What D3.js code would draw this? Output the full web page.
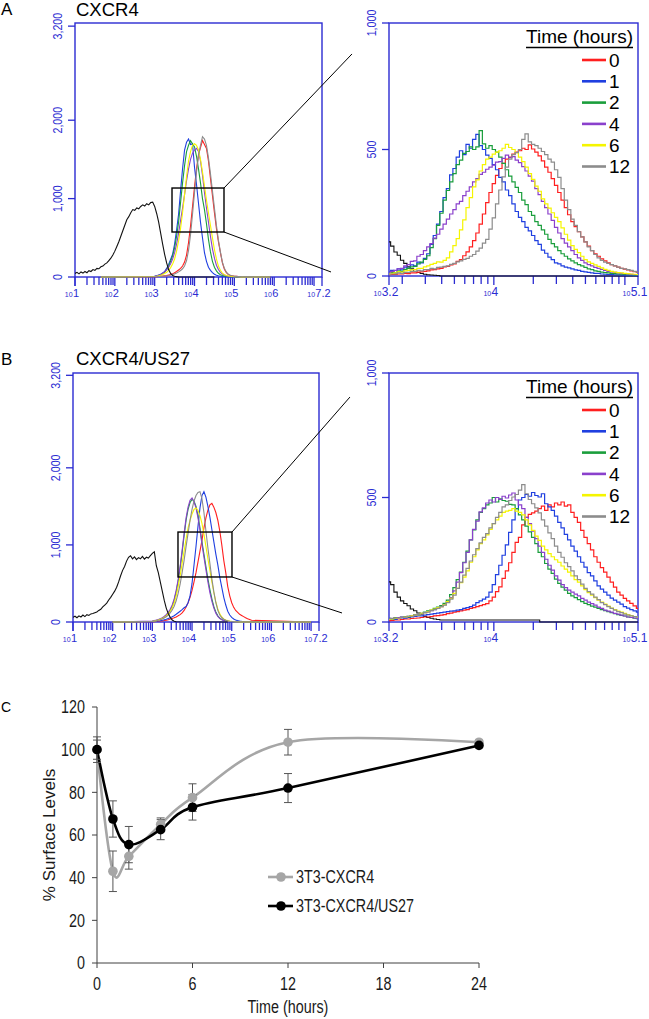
<!DOCTYPE html>
<html><head><meta charset="utf-8">
<script src="https://cdn.jsdelivr.net/npm/d3@7"></script>
<style>body{margin:0;background:#fff}svg{display:block}text{font-family:"Liberation Sans",Arial,sans-serif}</style>
</head><body>
<svg id="c" width="649" height="1019"></svg>
<script>
// ---------------- DATA ----------------
const timeLabels = ["0","1","2","4","6","12"];
const timeColors = ["#ff1f1f","#1f3fe0","#1a9e3c","#8a40cc","#f5f500","#8c8c8c"];

// zoomed histograms: log10 start 3.2, step 0.025
const zoomStart = 3.2, zoomStep = 0.025;
const zA_t0 = [5,6,6,8,8,10,9,12,12,15,16,18,20,24,25,28,30,36,38,44,48,58,65,80,95,115,140,170,205,245,290,330,365,398,425,445,462,470,482,490,495,505,500,518,502,490,475,455,430,410,385,358,330,300,270,242,215,195,175,155,135,118,100,88,78,68,60,52,45,40,35,30,27,24,20,17,14];
const zA_t1 = [15,22,12,28,24,35,30,44,40,55,52,70,88,125,160,205,255,310,345,400,425,470,495,480,520,505,540,560,515,500,478,465,440,420,390,372,340,318,285,255,232,215,192,178,160,140,125,102,90,75,65,52,48,40,35,32,28,24,22,18,16,14,12,10,10,8,7,6,6,5,5,4,4,3,3,2,2];
const zA_t2 = [10,14,12,20,18,26,30,36,38,48,55,66,80,112,148,200,248,300,338,372,405,440,458,485,492,510,500,510,575,522,505,515,500,490,470,445,420,395,372,350,330,300,282,255,240,215,200,182,165,145,128,115,100,88,78,68,60,52,45,40,34,28,25,20,18,15,13,12,10,9,8,7,6,5,5,4,4];
const zA_t4 = [12,18,22,28,30,40,45,58,60,78,85,100,115,128,150,165,185,205,225,245,262,285,295,318,335,352,372,385,402,410,422,430,438,450,452,465,478,468,472,458,448,432,415,395,375,345,322,295,270,245,220,192,170,148,130,115,100,85,72,62,52,45,40,34,30,26,22,18,16,14,12,10,9,8,7,6,5];
const zA_t6 = [8,10,12,16,15,20,22,24,25,30,30,36,40,46,50,56,55,62,72,95,120,148,182,222,270,310,352,380,415,440,462,470,482,490,495,505,520,508,500,488,470,452,430,405,382,355,335,305,285,268,250,232,215,190,165,142,120,105,92,78,65,56,50,44,38,32,26,22,18,15,13,12,10,9,8,7,6];
const zA_t12 = [5,8,8,12,10,14,14,18,18,22,20,25,25,30,28,34,35,38,40,46,50,56,60,66,70,78,85,98,110,130,145,185,230,285,340,392,430,462,480,488,500,540,562,530,520,515,505,492,480,462,450,420,390,345,300,262,225,200,175,155,135,115,100,85,72,62,55,50,45,40,35,30,28,25,22,18,15];
const zA_ctl = [135,118,95,82,62,50,36,28,18,14,10,7,5,4,3,2,0];

const zB_t0 = [5,6,8,8,10,12,12,14,15,16,18,20,20,22,25,26,28,30,34,36,40,42,45,48,50,55,58,62,66,70,74,85,100,122,141,175,205,238,280,320,340,390,420,432,438,445,455,465,448,470,462,478,470,482,465,470,440,420,400,368,340,315,290,262,240,218,200,180,160,140,120,108,95,85,75,65,55];
const zB_t1 = [10,12,10,14,16,15,18,20,22,24,25,28,30,32,34,36,38,40,42,44,45,48,50,55,58,62,68,78,85,92,100,120,150,190,228,268,310,360,410,455,490,500,512,505,520,508,502,515,475,462,448,425,400,378,352,330,305,285,262,240,220,198,185,165,145,132,120,108,96,88,80,72,62,56,50,45,40];
const zB_t2 = [15,12,18,16,20,22,20,26,30,28,35,40,45,48,55,60,66,75,88,110,138,170,200,240,285,330,370,410,440,455,470,478,500,482,495,488,485,472,470,455,430,410,385,362,340,315,280,262,235,212,195,172,155,140,128,115,105,98,90,82,75,70,64,60,55,50,46,42,38,34,30,27,24,20,18,15,13];
const zB_t4 = [12,15,14,18,20,18,22,25,28,30,34,38,42,46,50,56,62,70,80,98,125,160,198,238,280,330,372,405,442,458,478,490,482,500,492,505,498,510,518,490,470,455,420,395,365,335,305,280,252,228,208,185,168,150,138,128,120,112,105,95,88,80,74,68,60,55,48,44,40,35,32,28,24,20,18,16,14];
const zB_t6 = [10,12,15,14,18,20,22,25,28,30,35,38,42,48,52,58,62,70,82,95,115,135,158,180,205,240,262,290,315,330,350,372,395,410,425,440,445,448,455,445,440,430,410,390,368,345,328,305,290,275,262,250,240,225,212,200,185,170,160,145,130,118,108,98,88,80,72,64,56,50,44,40,35,30,26,22,20];
const zB_t12 = [12,14,16,15,18,20,24,22,28,30,32,38,40,46,50,55,62,68,78,92,108,135,160,188,215,245,270,295,318,340,355,378,395,420,440,462,470,488,502,512,530,552,515,492,475,458,438,410,385,358,335,305,280,260,238,222,205,185,170,152,135,122,112,100,90,78,70,62,55,48,42,38,32,28,25,22,20];
const zB_ctl = [161,150,120,100,85,74,65,52,45,36,30,22,18,15,12,10,8];

// full-range histograms: log10 start 3.0, step 0.05
const fullStart = 3.0, fullStep = 0.05;
const fA_t0 = [3,5,7,9,12,15,18,24,30,40,55,70,90,110,140,190,280,440,650,900,1150,1380,1560,1650,1740,1690,1640,1480,1260,1040,820,620,450,310,180,100,55,30,20,14,10,8,6,5,4,3,2,2,1,1,0];
const fA_t1 = [10,15,25,35,50,70,110,160,225,290,420,600,800,1100,1380,1620,1720,1760,1690,1700,1400,1180,940,700,500,310,200,125,85,55,35,22,15,10,8,6,5,4,3,2,2,1,1,1,0,0,0,0,0,0,0];
const fA_t2 = [8,12,20,30,45,62,95,140,200,270,370,520,700,950,1200,1420,1600,1680,1740,1700,1660,1540,1380,1200,1000,860,680,480,320,200,125,78,48,30,20,14,10,7,5,4,3,2,2,1,1,0,0,0,0,0,0];
const fA_t4 = [10,15,22,32,48,65,90,125,170,230,310,420,560,720,880,1050,1230,1380,1500,1580,1620,1640,1600,1480,1300,1080,880,700,520,360,240,150,95,60,38,25,16,10,7,5,4,3,2,1,1,0,0,0,0,0,0];
const fA_t6 = [6,10,15,22,32,45,60,85,120,165,230,330,460,620,820,1050,1280,1480,1600,1680,1700,1680,1620,1500,1340,1160,980,820,660,500,350,230,140,85,50,30,20,14,10,7,5,4,3,2,1,0,0,0,0,0,0];
const fA_t12 = [3,4,6,8,10,13,16,20,25,32,40,50,65,82,105,140,210,340,540,800,1080,1340,1540,1680,1790,1760,1680,1520,1320,1100,880,660,470,320,190,110,62,35,22,15,10,8,6,5,4,3,2,2,1,1,0];

const fB_t0 = [3,5,7,9,12,15,19,24,30,38,46,55,66,80,95,118,150,195,250,320,410,520,640,780,920,1060,1220,1350,1450,1520,1540,1490,1420,1320,1180,1000,800,640,460,340,250,190,150,125,100,85,70,55,42,32,22];
const fB_t1 = [5,7,10,13,17,22,28,35,45,55,68,82,100,120,140,160,185,200,250,340,500,740,980,1240,1480,1640,1690,1620,1500,1360,1200,1040,880,740,580,450,320,220,140,90,60,40,26,18,12,8,5,3,2,1,0];
const fB_t2 = [10,15,20,28,38,50,65,85,110,150,200,280,390,530,700,900,1120,1320,1460,1550,1590,1570,1500,1380,1220,1040,880,720,560,420,300,200,130,80,50,32,22,15,10,7,5,4,3,2,1,0,0,0,0,0,0];
const fB_t4 = [12,18,24,32,42,55,72,95,125,165,220,300,410,550,720,930,1150,1350,1490,1580,1610,1560,1480,1350,1190,1010,840,680,520,380,270,180,115,72,45,28,18,12,8,6,4,3,2,2,1,0,0,0,0,0,0];
const fB_t6 = [8,12,18,25,34,45,60,80,105,140,185,250,340,460,600,760,920,1080,1220,1320,1400,1460,1480,1450,1380,1280,1140,980,820,670,520,380,260,170,105,65,40,26,18,12,8,6,4,3,2,1,0,0,0,0,0];
const fB_t12 = [8,12,16,22,30,40,52,68,90,118,155,205,275,370,490,640,800,980,1150,1320,1460,1570,1640,1680,1690,1600,1420,1180,960,760,560,390,250,150,90,55,35,22,15,10,7,5,4,3,2,1,0,0,0,0,0];

// control (unstained) histogram on full range: log10 start 1.0, step 0.05
const ctlStart = 1.0, ctlStep = 0.05;
const fA_ctl = [45,60,40,65,50,70,55,80,70,95,85,110,105,130,140,165,180,210,240,280,330,390,450,520,590,660,730,770,820,860,850,880,870,900,920,905,935,920,950,955,900,810,700,560,420,290,180,95,45,20,10,5,2];
const fB_ctl = [60,75,55,80,65,90,70,95,85,105,110,120,130,150,165,195,220,245,285,320,360,400,450,520,600,670,720,790,840,860,820,845,810,835,820,850,815,840,830,860,890,910,730,640,520,400,280,180,110,60,25,10,3];

// axes
const fullDomainLog = [1, 7.2];
const zoomDomainLog = [3.2, 5.1];
const fullYTicks = [0, 1000, 2000, 3200];
const zoomYTicks = [0, 500, 1000];
const fullXLabelExps = [1, 2, 3, 4, 5, 6, 7.2];
const zoomXLabelExps = [3.2, 4, 5.1];
const baseA = [1.65, 5.9], baseB = [2.0, 7.0];     // extent of zero baseline of coloured histograms
const ctlBaseA = 4.5, ctlBaseB = 4.9;
// zoom box (log x, counts) and connector end points (log x, counts) in full-range axes
const boxA = {x: [3.435, 4.74], y: [574, 1135]}, connA = [[7.953, 2845], [7.426, 64]];
const boxB = {x: [3.646, 5.007], y: [584, 1167]}, connB = [[7.98, 2918], [7.78, 117]];

// panel C
const hours = [0, 1, 2, 4, 6, 12, 24];
const cxcr4Mean = [100, 43, 50, 65, 77.5, 103.5, 103.5];
const cxcr4Err  = [6, 9.5, 6, 3, 6.5, 6, 1];
const us27Mean  = [100, 67.5, 55.5, 62.5, 73, 82, 102];
const us27Err   = [4.5, 8.5, 8.5, 4.7, 6, 6.8, 1];
const cXTicks = [0, 6, 12, 18, 24];
const cYTicks = [0, 20, 40, 60, 80, 100, 120];

// ---------------- DRAW ----------------
const svg = d3.select("#c");
const defs = svg.append("defs");
const BLUE = "#2b2bd2";

const panels = [
  {key: "A", title: "CXCR4", titleY: 15.5,
   full: {x0: 75, x1: 322, y0: 277, y1: 23, yMax: 3240},
   zoom: {x0: 389, x1: 638, y0: 276, y1: 23, yMax: 1000},
   fz: [zA_t0, zA_t1, zA_t2, zA_t4, zA_t6, zA_t12], zc: zA_ctl,
   ff: [fA_t0, fA_t1, fA_t2, fA_t4, fA_t6, fA_t12], fc: fA_ctl,
   base: baseA, ctlBase: ctlBaseA, box: boxA, conn: connA},
  {key: "B", title: "CXCR4/US27", titleY: 365,
   full: {x0: 73, x1: 319, y0: 622, y1: 373, yMax: 3230},
   zoom: {x0: 389, x1: 638, y0: 622, y1: 373, yMax: 1000},
   fz: [zB_t0, zB_t1, zB_t2, zB_t4, zB_t6, zB_t12], zc: zB_ctl,
   ff: [fB_t0, fB_t1, fB_t2, fB_t4, fB_t6, fB_t12], fc: fB_ctl,
   base: baseB, ctlBase: ctlBaseB, box: boxB, conn: connB}
];

function pts(start, step, vals, padStart, padEnd) {
  const p = vals.map((v, i) => [start + i * step, v]);
  if (padStart != null) p.unshift([padStart, 0]);
  if (padEnd != null) p.push([padEnd, 0]);
  return p;
}

function frame(geo, domLog, yTicks, xExps, expSize, clipId) {
  const xs = d3.scaleLog().domain([Math.pow(10, domLog[0]), Math.pow(10, domLog[1])]).range([geo.x0, geo.x1]);
  const ys = d3.scaleLinear().domain([0, geo.yMax]).range([geo.y0, geo.y1]);
  defs.append("clipPath").attr("id", clipId).append("rect")
    .attr("x", geo.x0).attr("y", geo.y1).attr("width", geo.x1 - geo.x0).attr("height", geo.y0 - geo.y1 + 1);
  const g = svg.append("g");
  const tks = xs.ticks().concat(xs.domain());
  tks.forEach(v => {
    const lv = Math.log10(v);
    const major = Math.abs(lv - Math.round(lv)) < 1e-9 || v === xs.domain()[0] || v === xs.domain()[1];
    g.append("line").attr("x1", xs(v)).attr("x2", xs(v)).attr("y1", geo.y0).attr("y2", geo.y0 + (major ? 9 : 8))
      .attr("stroke", BLUE).attr("stroke-width", 1.3);
  });
  xExps.forEach(e => {
    const x = xs(Math.pow(10, e));
    const t = g.append("text").attr("x", x + 1).attr("y", geo.y0 + 19.5).attr("text-anchor", "middle")
      .attr("font-size", expSize).attr("fill", BLUE).text(String(e));
    const bb = t.node().getBBox();
    g.append("text").attr("x", bb.x - 0.3).attr("y", geo.y0 + 20.3).attr("text-anchor", "end")
      .attr("font-size", 7).attr("fill", BLUE).text("10");
  });
  yTicks.forEach(v => {
    g.append("line").attr("x1", geo.x0 - 7).attr("x2", geo.x0).attr("y1", ys(v)).attr("y2", ys(v))
      .attr("stroke", BLUE).attr("stroke-width", 1.3);
    g.append("text").attr("transform", `translate(${geo.x0 - 13},${ys(v)}) rotate(-90) scale(0.82,1)`)
      .attr("text-anchor", "middle").attr("font-size", 13).attr("fill", BLUE).text(d3.format(",")(v));
  });
  return {xs, ys, g};
}

function drawFrameRect(geo) {
  svg.append("rect").attr("x", geo.x0).attr("y", geo.y1).attr("width", geo.x1 - geo.x0).attr("height", geo.y0 - geo.y1)
    .attr("fill", "none").attr("stroke", BLUE).attr("stroke-width", 1.4);
}

panels.forEach(P => {
  svg.append("text").attr("x", 1).attr("y", P.titleY - 0.5).attr("font-size", 17).text(P.key);
  svg.append("text").attr("x", 76).attr("y", P.titleY).attr("font-size", 18.5).text(P.title);

  // ---- full range panel ----
  drawFrameRect(P.full);
  const F = frame(P.full, fullDomainLog, fullYTicks, fullXLabelExps, 11, "clipF" + P.key);
  const lf = d3.line().x(d => F.xs(Math.pow(10, d[0]))).y(d => F.ys(d[1])).curve(d3.curveLinear);
  const gf = svg.append("g").attr("clip-path", `url(#clipF${P.key})`);
  P.ff.forEach((vals, i) => {
    gf.append("path").attr("d", lf(pts(fullStart, fullStep, vals, P.base[0], P.base[1])))
      .attr("fill", "none").attr("stroke", timeColors[i]).attr("stroke-width", 1.1);
  });
  gf.append("path").attr("d", lf(pts(ctlStart, ctlStep, P.fc, null, P.ctlBase)))
    .attr("fill", "none").attr("stroke", "#111").attr("stroke-width", 1.1);

  const bx0 = F.xs(Math.pow(10, P.box.x[0])), bx1 = F.xs(Math.pow(10, P.box.x[1]));
  const by0 = F.ys(P.box.y[1]), by1 = F.ys(P.box.y[0]);
  svg.append("rect").attr("x", bx0).attr("y", by0).attr("width", bx1 - bx0).attr("height", by1 - by0)
    .attr("fill", "none").attr("stroke", "#000").attr("stroke-width", 1.4);
  svg.append("line").attr("x1", bx1).attr("y1", by0)
    .attr("x2", F.xs(Math.pow(10, P.conn[0][0]))).attr("y2", F.ys(P.conn[0][1]))
    .attr("stroke", "#000").attr("stroke-width", 1);
  svg.append("line").attr("x1", bx1).attr("y1", by1)
    .attr("x2", F.xs(Math.pow(10, P.conn[1][0]))).attr("y2", F.ys(P.conn[1][1]))
    .attr("stroke", "#000").attr("stroke-width", 1);

  // ---- zoom panel ----
  drawFrameRect(P.zoom);
  const Z = frame(P.zoom, zoomDomainLog, zoomYTicks, zoomXLabelExps, 12, "clipZ" + P.key);
  const lz = d3.line().x(d => Z.xs(Math.pow(10, d[0]))).y(d => Z.ys(d[1])).curve(d3.curveStep);
  const gz = svg.append("g").attr("clip-path", `url(#clipZ${P.key})`);
  gz.append("path").attr("d", lz(pts(zoomStart, zoomStep, P.zc, null, zoomDomainLog[1])))
    .attr("fill", "none").attr("stroke", "#111").attr("stroke-width", 1.1);
  P.fz.forEach((vals, i) => {
    gz.append("path").attr("d", lz(pts(zoomStart, zoomStep, vals, null, null)))
      .attr("fill", "none").attr("stroke", timeColors[i]).attr("stroke-width", 1.2);
  });

  const top = P.zoom.y1;
  const lt = svg.append("text").attr("x", 633).attr("y", top + 20).attr("text-anchor", "end")
    .attr("font-size", 19).text("Time (hours)");
  const lb = lt.node().getBBox();
  svg.append("line").attr("x1", lb.x).attr("x2", lb.x + lb.width).attr("y1", top + 24.5).attr("y2", top + 24.5)
    .attr("stroke", "#000").attr("stroke-width", 1.3);
  timeLabels.forEach((lab, i) => {
    const cyy = top + 37 + i * 21.3;
    svg.append("line").attr("x1", 582).attr("x2", 606).attr("y1", cyy).attr("y2", cyy)
      .attr("stroke", timeColors[i]).attr("stroke-width", 2.6);
    svg.append("text").attr("x", 609).attr("y", cyy + 6.8).attr("font-size", 19).text(lab);
  });
});

// ---------------- PANEL C ----------------
const cx = d3.scaleLinear().domain([0, 24]).range([97, 479]);
const cy = d3.scaleLinear().domain([0, 120]).range([963, 707]);
const AX = "#404040";
const gc = svg.append("g");
gc.append("text").attr("x", 1).attr("y", 712).attr("font-size", 14).attr("font-family", "Open Sans, sans-serif").text("C");
gc.append("line").attr("x1", cx(0)).attr("x2", cx(0)).attr("y1", cy(0)).attr("y2", cy(120)).attr("stroke", AX).attr("stroke-width", 1);
gc.append("line").attr("x1", cx(0)).attr("x2", cx(24)).attr("y1", cy(0)).attr("y2", cy(0)).attr("stroke", AX).attr("stroke-width", 1);
cYTicks.forEach(v => {
  gc.append("line").attr("x1", cx(0) - 5).attr("x2", cx(0)).attr("y1", cy(v)).attr("y2", cy(v)).attr("stroke", AX);
  gc.append("text").attr("transform", `translate(85,${cy(v) + 6.2}) scale(0.82,1)`).attr("text-anchor", "end")
    .attr("font-size", 17.5).attr("fill", "#1a1a1a").text(v);
});
cXTicks.forEach(v => {
  gc.append("line").attr("x1", cx(v)).attr("x2", cx(v)).attr("y1", cy(0)).attr("y2", cy(0) + 5).attr("stroke", AX);
  gc.append("text").attr("transform", `translate(${cx(v)},990) scale(0.82,1)`).attr("text-anchor", "middle")
    .attr("font-size", 17.5).attr("fill", "#1a1a1a").text(v);
});
gc.append("text").attr("transform", "translate(288,1013) scale(0.82,1)").attr("text-anchor", "middle")
  .attr("font-size", 17.5).attr("fill", "#1a1a1a").text("Time (hours)");
gc.append("text").attr("transform", "translate(55,835) rotate(-90)").attr("text-anchor", "middle")
  .attr("font-size", 17).attr("fill", "#1a1a1a").text("% Surface Levels");

const seriesC = [
  {name: "3T3-CXCR4", mean: cxcr4Mean, err: cxcr4Err, color: "#a6a6a6", ly: 877},
  {name: "3T3-CXCR4/US27", mean: us27Mean, err: us27Err, color: "#000000", ly: 906}
];
const lc = d3.line().x(d => cx(d[0])).y(d => cy(d[1])).curve(d3.curveCardinal.tension(0));
seriesC.forEach(s => {
  gc.append("path").attr("d", lc(hours.map((h, i) => [h, s.mean[i]])))
    .attr("fill", "none").attr("stroke", s.color).attr("stroke-width", 2.6);
});
seriesC.forEach(s => {
  hours.forEach((h, i) => {
    const x = cx(h), y1 = cy(s.mean[i] - s.err[i]), y2 = cy(s.mean[i] + s.err[i]);
    gc.append("line").attr("x1", x).attr("x2", x).attr("y1", y1).attr("y2", y2).attr("stroke", "#555").attr("stroke-width", 1);
    [y1, y2].forEach(yy => gc.append("line").attr("x1", x - 4).attr("x2", x + 4).attr("y1", yy).attr("y2", yy)
      .attr("stroke", "#555").attr("stroke-width", 1));
  });
});
seriesC.forEach(s => {
  hours.forEach((h, i) => {
    gc.append("circle").attr("cx", cx(h)).attr("cy", cy(s.mean[i])).attr("r", 4.8).attr("fill", s.color);
  });
  gc.append("line").attr("x1", 268).attr("x2", 293).attr("y1", s.ly).attr("y2", s.ly).attr("stroke", s.color).attr("stroke-width", 2.6);
  gc.append("circle").attr("cx", 281).attr("cy", s.ly).attr("r", 4.8).attr("fill", s.color);
  gc.append("text").attr("transform", `translate(296,${s.ly + 6.2}) scale(0.82,1)`)
    .attr("font-size", 17.5).attr("fill", "#1a1a1a").text(s.name);
});
</script>
</body></html>
